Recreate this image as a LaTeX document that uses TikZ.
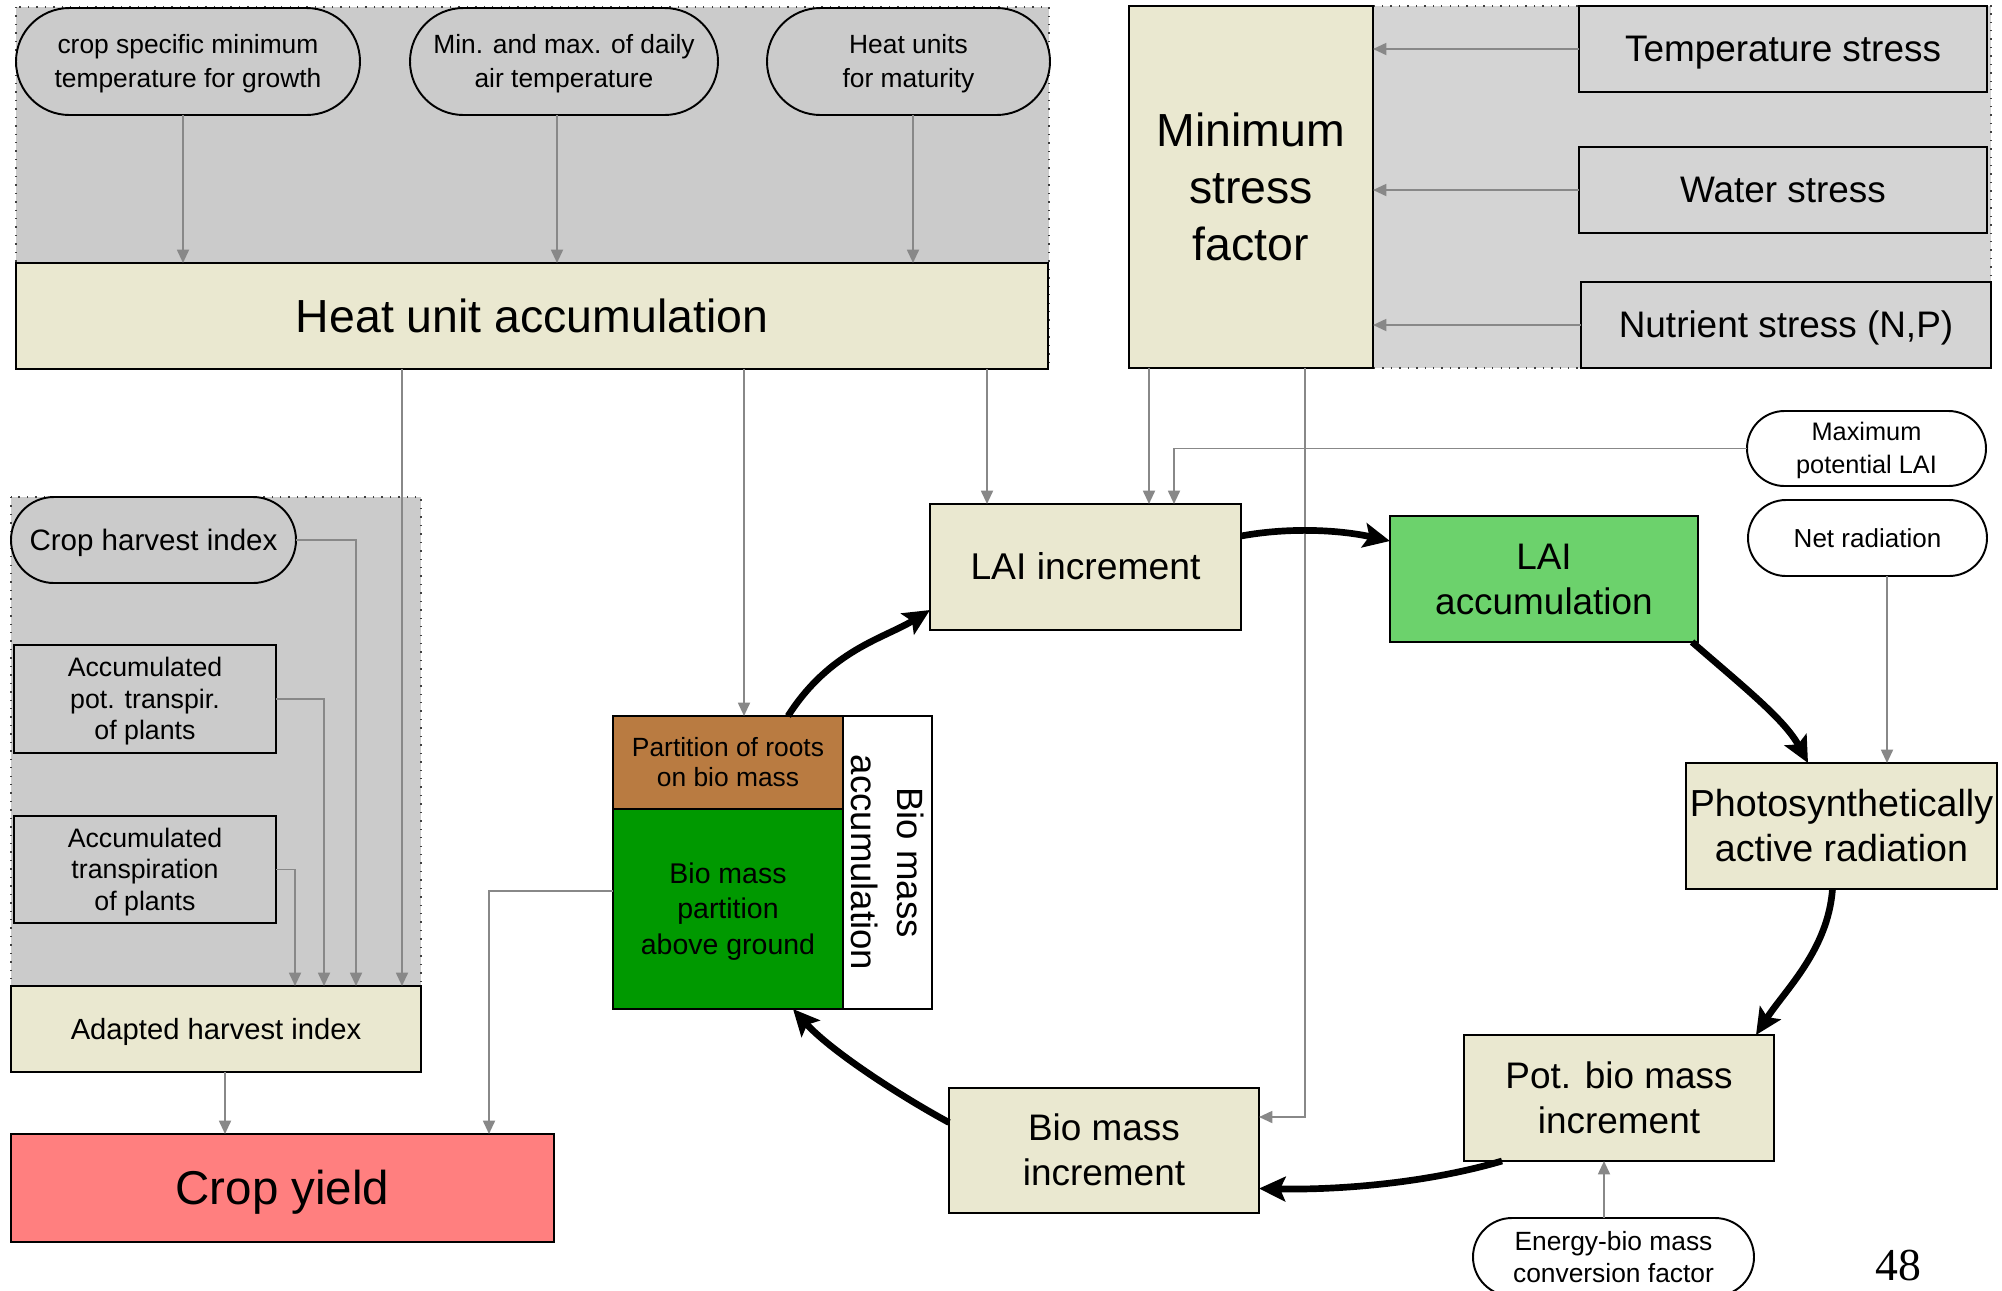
\documentclass[tikz,border=0pt]{standalone}
\usepackage{fontspec}
\setmainfont{Liberation Sans}
\newfontfamily\serifnum{Liberation Serif}
\usetikzlibrary{arrows.meta,shapes.misc,calc}
\definecolor{beige}{HTML}{EAE8D0}
\definecolor{grayL}{HTML}{CBCBCB}
\definecolor{grayR}{HTML}{D4D4D4}
\definecolor{laigreen}{HTML}{6CD26C}
\definecolor{darkgreen}{HTML}{009900}
\definecolor{rootbrown}{HTML}{B97B41}
\definecolor{yieldpink}{HTML}{FF7F7F}
\definecolor{arrowgray}{HTML}{888888}
\newcommand\fs[2]{\fontsize{#1}{#2}\selectfont}
\newcommand\ps{\rule[-0.212em]{0pt}{1.117em}}
\newcommand\mkbox[7]{\node[#6,minimum width={(#4-#2)*0.01cm},minimum height={(#5-#3)*0.01cm}] (#1) at ({(#2+#4)/2},{(#3+#5)/2}) {\ps#7\ps};}
\begin{document}
\begin{tikzpicture}[x=0.01cm,y=-0.01cm,
  bx/.style={draw=black,line width=0.6pt,fill=beige,inner sep=0pt,outer sep=0pt,align=center},
  ov/.style={rounded rectangle,draw=black,line width=0.55pt,inner sep=0pt,outer sep=0pt,align=center},
  region/.style={draw=black!75,dotted,line width=0.4pt},
  ga/.style={draw=arrowgray,line width=0.55pt,-{Triangle[length=3.8pt,width=3.4pt]}},
  ta/.style={draw=black,line width=1.9pt,-{Stealth[length=7.5pt,width=7pt,inset=1.5pt]}}]
\useasboundingbox (0,0) rectangle (2002,1290);
\fill[white] (0,0) rectangle (2002,1290);
% background regions
\draw[region,fill=grayL] (16,7) rectangle (1049,369);
\draw[region,fill=grayR] (1373,6) rectangle (1991,368);
\draw[region,fill=grayL] (11,497) rectangle (421,986);
% top-left group
\mkbox{ov1}{16}{8}{360}{115}{ov,fill=grayL,font=\fs{7.5}{9.7}}{crop specific minimum\\temperature for growth}
\mkbox{ov2}{410}{8}{718}{115}{ov,fill=grayL,font=\fs{7.5}{9.7}}{Min. and max. of daily\\air temperature}
\mkbox{ov3}{767}{8}{1050}{115}{ov,fill=grayL,font=\fs{7.5}{9.7}}{Heat units\\for maturity}
\mkbox{heat}{16}{263}{1048}{369}{bx,font=\fs{13.2}{16}}{Heat unit accumulation}
% top-right group
\mkbox{msf}{1129}{6}{1373}{368}{bx,font=\fs{13.2}{16.2}}{Minimum\\stress\\factor}
\mkbox{ts}{1579}{6}{1987}{92}{bx,fill=grayR,font=\fs{10.5}{12.6}}{Temperature stress}
\mkbox{ws}{1579}{147}{1987}{233}{bx,fill=grayR,font=\fs{10.5}{12.6}}{Water stress}
\mkbox{ns}{1581}{282}{1991}{368}{bx,fill=grayR,font=\fs{10.5}{12.6}}{Nutrient stress (N,P)}
% bottom-left group
\mkbox{chi}{11}{497}{296}{583}{ov,fill=grayL,font=\fs{8.4}{10}}{Crop harvest index}
\mkbox{apt}{14}{645}{276}{753}{bx,fill=grayL,font=\fs{7.6}{9}}{Accumulated\\pot. transpir.\\of plants}
\mkbox{atr}{14}{816}{276}{923}{bx,fill=grayL,font=\fs{7.6}{9}}{Accumulated\\transpiration\\of plants}
\mkbox{ahi}{11}{986}{421}{1072}{bx,font=\fs{8.3}{10}}{Adapted harvest index}
\mkbox{cy}{11}{1134}{554}{1242}{bx,fill=yieldpink,font=\fs{13.5}{16}}{Crop yield}
% bio mass block
\mkbox{roots}{613}{716}{843}{809}{bx,fill=rootbrown,font=\fs{7.5}{8.6}}{Partition of roots\\on bio mass}
\mkbox{bmpag}{613}{809}{843}{1009}{bx,fill=darkgreen,font=\fs{8.1}{10.2}}{Bio mass\\partition\\above ground}
\mkbox{bmacc}{843}{716}{932}{1009}{bx,fill=white}{}
\node[rotate=-90,align=center,inner sep=0pt,font=\fs{10.4}{13}] (bmacctext) at (bmacc.center) {\ps Bio mass\\accumulation\ps};
% cycle
\mkbox{laiinc}{930}{504}{1241}{630}{bx,font=\fs{10.6}{12.8}}{LAI increment}
\mkbox{laiacc}{1390}{516}{1698}{642}{bx,fill=laigreen,font=\fs{10.5}{12.8}}{LAI\\accumulation}
\mkbox{par}{1686}{763}{1997}{889}{bx,font=\fs{10.7}{12.8}}{Photosynthetically\\active radiation}
\mkbox{potbio}{1464}{1035}{1774}{1161}{bx,font=\fs{10.5}{12.8}}{Pot. bio mass\\increment}
\mkbox{bioinc}{949}{1088}{1259}{1213}{bx,font=\fs{10.5}{12.8}}{Bio mass\\increment}
\mkbox{maxlai}{1747}{411}{1986}{486}{ov,fill=white,font=\fs{7.2}{9.4}}{Maximum\\potential LAI}
\mkbox{net}{1748}{500}{1987}{576}{ov,fill=white,font=\fs{7.4}{9}}{Net radiation}
\mkbox{energy}{1473}{1218}{1754}{1296}{ov,fill=white,font=\fs{7.5}{9.1}}{Energy-bio mass\\conversion factor}
\node[anchor=base,inner sep=0pt,font=\serifnum\fs{13}{15}] (pagenum) at (1898,1280) {48};
% helper coordinates
\coordinate (c183) at (183,0);
\coordinate (c557) at (557,0);
\coordinate (c913) at (913,0);
\coordinate (c402) at (402,0);
\coordinate (c744) at (744,0);
\coordinate (c987) at (987,0);
\coordinate (c1149) at (1149,0);
\coordinate (c1174) at (1174,0);
\coordinate (c1887) at (1887,0);
\coordinate (c356) at (356,0);
\coordinate (c324) at (324,0);
\coordinate (c295) at (295,0);
\coordinate (c225) at (225,0);
\coordinate (c1604) at (1604,0);
\coordinate (k1) at (1305,1117);
\coordinate (k2) at (489,891);
% thin gray connectors
\draw[ga] (ov1.south -| c183) -- (heat.north -| c183);
\draw[ga] (ov2.south -| c557) -- (heat.north -| c557);
\draw[ga] (ov3.south -| c913) -- (heat.north -| c913);
\draw[ga] (heat.south -| c402) -- (ahi.north -| c402);
\draw[ga] (heat.south -| c744) -- (roots.north -| c744);
\draw[ga] (heat.south -| c987) -- (laiinc.north -| c987);
\draw[ga] (msf.south -| c1149) -- (laiinc.north -| c1149);
\draw[ga] (msf.south -| k1) -- (k1) -- (bioinc.east |- k1);
\draw[ga] (maxlai.west) -| (laiinc.north -| c1174);
\draw[ga] (net.south -| c1887) -- (par.north -| c1887);
\draw[ga] (ts.west) -- (ts.west -| msf.east);
\draw[ga] (ws.west) -- (ws.west -| msf.east);
\draw[ga] (ns.west) -- (ns.west -| msf.east);
\draw[ga] (chi.east) -| (ahi.north -| c356);
\draw[ga] (apt.east) -| (ahi.north -| c324);
\draw[ga] (atr.east) -| (ahi.north -| c295);
\draw[ga] (ahi.south -| c225) -- (cy.north -| c225);
\draw[ga] (bmpag.west |- k2) -| (cy.north -| k2);
\draw[ga] (energy.north -| c1604) -- (potbio.south -| c1604);
% thick cycle arrows
\draw[ta] ($(roots.north west)+(175,0)$) .. controls (830,650) and (885,638) .. ($(laiinc.south west)+(0,-20)$);
\draw[ta] ($(laiinc.east)+(0,-31)$) .. controls (1290,527) and (1340,530) .. ($(laiacc.west)+(0,-38)$);
\draw[ta] ($(laiacc.south east)+(-6,0)$) .. controls (1745,688) and (1785,720) .. ($(par.north west)+(122,0)$);
\draw[ta] ($(par.south)+(-9,0)$) .. controls (1828,950) and (1785,990) .. ($(potbio.north east)+(-18,0)$);
\draw[ta] ($(potbio.south west)+(38,0)$) .. controls (1420,1185) and (1330,1190) .. ($(bioinc.east)+(0,38)$);
\draw[ta] ($(bioinc.west)+(0,-28)$) .. controls (895,1093) and (830,1050) .. ($(bmpag.south)+(65,0)$);
\end{tikzpicture}
\end{document}
